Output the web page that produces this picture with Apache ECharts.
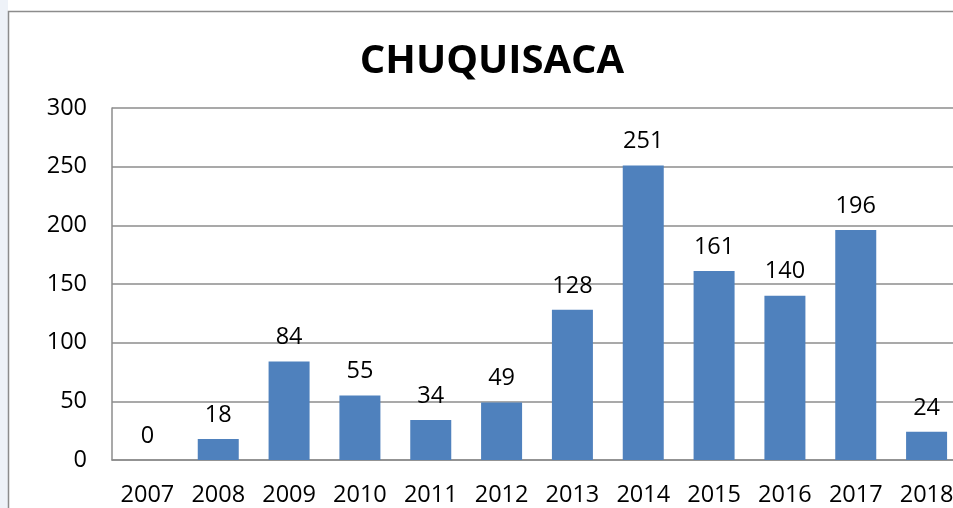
<!DOCTYPE html>
<html>
<head>
<meta charset="utf-8">
<script src="https://cdn.jsdelivr.net/npm/echarts@6/dist/echarts.min.js"></script>
<style>
html, body { margin: 0; padding: 0; background: #fff; }
#main { width: 953px; height: 508px; }
</style>
</head>
<body>
<div id="main"></div>
<script>
var years = ['2007', '2008', '2009', '2010', '2011', '2012', '2013', '2014', '2015', '2016', '2017', '2018'];
var values = [0, 18, 84, 55, 34, 49, 128, 251, 161, 140, 196, 24];
var yTicks = [0, 50, 100, 150, 200, 250, 300];

var chart = echarts.init(document.getElementById('main'));
var font = '"Open Sans", "Noto Sans", sans-serif';

var option = {
	animation: false,
	title: {
		text: 'CHUQUISACA',
		left: 487,
		textAlign: 'center',
		top: 37,
		textStyle: { fontFamily: font, fontSize: 40, fontWeight: 'bold', color: '#000' }
	},
	graphic: [{
		type: 'rect',
		shape: { x: 0, y: 0, width: 8, height: 508 },
		style: { fill: '#eef2f8' },
		silent: true
	}, {
		type: 'rect',
		shape: { x: 8.5, y: 11.5, width: 960, height: 520 },
		style: { fill: 'none', stroke: '#8c8c8c', lineWidth: 1.5 },
		silent: true
	}],
	grid: { left: 112, top: 108, width: 850, height: 352, outerBoundsMode: 'none' },
	xAxis: {
		type: 'category',
		data: years,
		axisLine: { lineStyle: { color: '#8c8c8c', width: 1.5 } },
		axisTick: { show: false },
		axisLabel: { fontFamily: font, fontSize: 23.5, color: '#000', margin: 23 }
	},
	yAxis: {
		type: 'value',
		min: yTicks[0],
		max: yTicks[yTicks.length - 1],
		interval: 50,
		axisLine: { show: true, lineStyle: { color: '#8c8c8c', width: 1.5 } },
		axisTick: { show: false },
		splitLine: { lineStyle: { color: '#8c8c8c', width: 1.5 } },
		axisLabel: { fontFamily: font, fontSize: 23.5, color: '#000', margin: 25 }
	},
	series: [{
		type: 'bar',
		data: values,
		barWidth: 41,
		itemStyle: { color: '#4f81bd' },
		label: {
			show: true,
			position: 'top',
			distance: 12,
			fontFamily: font,
			fontSize: 23.5,
			color: '#000'
		}
	}]
};
chart.setOption(option);
</script>
</body>
</html>
